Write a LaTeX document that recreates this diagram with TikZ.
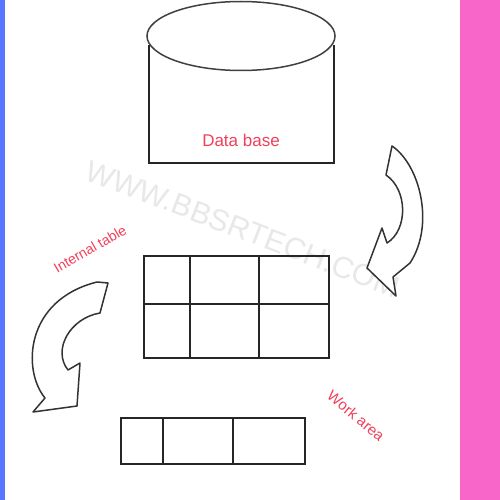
\documentclass[tikz,border=0pt]{standalone}
\usepackage{fontspec}
\setmainfont{Liberation Sans}
\definecolor{txtred}{RGB}{240,64,90}
\definecolor{stripblue}{RGB}{85,120,255}
\definecolor{strippink}{RGB}{247,102,200}
\definecolor{wmgray}{RGB}{232,232,232}
\tikzset{
  lbl/.style={text=txtred, inner sep=0pt},
  grid/.style={line width=2pt, draw=black!85},
  bend arrow/.style={draw=black!80, fill=white, line width=1.5pt, line join=round},
}
\begin{document}
\begin{tikzpicture}[x=1pt,y=-1pt]
\useasboundingbox (0,0) rectangle (500,500);
\fill[white] (0,0) rectangle (500,500);
\fill[stripblue] (0,0) rectangle (4.5,500);
\fill[strippink] (460,0) rectangle (500,500);
% watermark
\node[text=wmgray, rotate=-21, font=\fontsize{30}{30}\selectfont, inner sep=0pt] (wm) at (243,229) {WWW.BBSRTECH.COM};
% database cylinder
\draw[grid] (149,45) -- (149,163) -- (334,163) -- (334,45);
\draw[line width=1.5pt, draw=black!75] (241,36) ellipse [x radius=94, y radius=34.5];
\node[lbl, font=\fontsize{17}{17}\selectfont] (db) at (241,140) {Data base};
% internal table
\draw[grid] (143.5,256) rectangle (329,358);
\draw[grid] (190,256) -- (190,358);
\draw[grid] (259,256) -- (259,358);
\draw[grid] (143.5,304) -- (329,304);
\node[lbl, rotate=30, font=\fontsize{14}{14}\selectfont] (it) at (90,249) {Internal table};
% work area
\draw[grid] (121,418) rectangle (305,464);
\draw[grid] (163,418) -- (163,464);
\draw[grid] (233,418) -- (233,464);
\node[lbl, rotate=-40, font=\fontsize{15}{15}\selectfont] (wa) at (356,416) {Work area};
% right curved arrow
\draw[bend arrow] (392,146) .. controls (420,165) and (435,225) .. (410,263)
  -- (393,277) -- (396,296) -- (367,268) -- (382,228) -- (387,243)
  .. controls (408,230) and (408,190) .. (386,175) -- cycle;
% left curved arrow
\draw[bend arrow] (108,283) -- (100,313) .. controls (70,318) and (52,350) .. (68,370)
  -- (80,363) -- (77,406) -- (33,412) -- (45,398)
  .. controls (22,370) and (25,300) .. (97,282) -- cycle;
\end{tikzpicture}
\end{document}
